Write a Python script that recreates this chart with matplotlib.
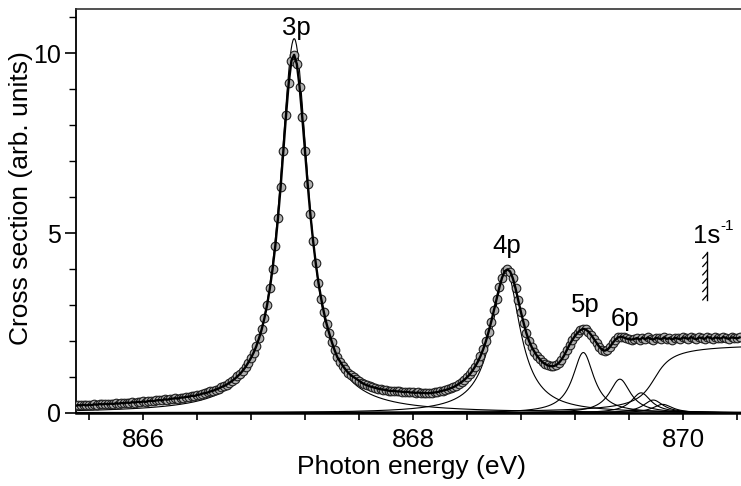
import numpy as np
import matplotlib
matplotlib.use("Agg")
import matplotlib.pyplot as plt

plt.rcParams['font.family'] = ['Liberation Sans', 'DejaVu Sans']

# ---------------- data ----------------
E_START = 865.50   # eV, first measured point
E_STEP = 0.02      # eV, energy step of the scan

cross_section = [
    0.20, 0.22, 0.21, 0.23, 0.21,   # 865.5
    0.23, 0.22, 0.24, 0.23, 0.25,
    0.24, 0.26, 0.24, 0.26, 0.25,
    0.27, 0.26, 0.28, 0.27, 0.29,
    0.28, 0.30, 0.29, 0.31, 0.30,
    0.32, 0.31, 0.33, 0.34, 0.33,   # 866.0
    0.35, 0.36, 0.35, 0.38, 0.37,
    0.39, 0.40, 0.41, 0.40, 0.43,
    0.43, 0.45, 0.45, 0.48, 0.47,
    0.50, 0.51, 0.54, 0.55, 0.57,
    0.60, 0.62, 0.65, 0.68, 0.72,   # 866.5
    0.75, 0.79, 0.84, 0.89, 0.95,
    1.02, 1.09, 1.18, 1.28, 1.40,
    1.53, 1.68, 1.86, 2.08, 2.33,
    2.64, 3.01, 3.46, 4.00, 4.63,
    5.41, 6.29, 7.28, 8.28, 9.18,   # 867.0
    9.79, 9.95, 9.69, 9.07, 8.22,
    7.28, 6.36, 5.52, 4.79, 4.16,
    3.62, 3.18, 2.80, 2.48, 2.21,
    1.96, 1.74, 1.55, 1.43, 1.31,
    1.21, 1.12, 1.05, 1.00, 0.95,   # 867.5
    0.90, 0.84, 0.80, 0.77, 0.74,
    0.72, 0.70, 0.68, 0.66, 0.65,
    0.64, 0.62, 0.61, 0.62, 0.60,
    0.60, 0.59, 0.58, 0.59, 0.57,
    0.57, 0.56, 0.57, 0.55, 0.56,   # 868.0
    0.55, 0.55, 0.56, 0.57, 0.58,
    0.60, 0.62, 0.64, 0.66, 0.69,
    0.72, 0.76, 0.81, 0.86, 0.92,
    0.99, 1.07, 1.17, 1.29, 1.42,
    1.58, 1.77, 1.99, 2.25, 2.54,   # 868.5
    2.86, 3.18, 3.49, 3.76, 3.94,
    3.99, 3.93, 3.74, 3.46, 3.13,
    2.80, 2.50, 2.22, 2.00, 1.83,
    1.70, 1.58, 1.49, 1.41, 1.36,
    1.32, 1.30, 1.30, 1.33, 1.39,   # 869.0
    1.48, 1.60, 1.75, 1.90, 2.03,
    2.14, 2.23, 2.30, 2.34, 2.32,
    2.26, 2.17, 2.06, 1.95, 1.84,
    1.76, 1.73, 1.76, 1.84, 1.95,
    2.04, 2.10, 2.12, 2.10, 2.07,   # 869.5
    2.05, 2.04, 2.06,
    2.08, 2.04, 2.09, 2.05, 2.10,   # 869.66
    2.06, 2.04, 2.09, 2.07, 2.05,
    2.10, 2.06, 2.08, 2.04, 2.09,
    2.07, 2.05, 2.10, 2.08, 2.06,
    2.11, 2.07, 2.05, 2.10, 2.08,
    2.06, 2.11, 2.09, 2.06, 2.10,
    2.08, 2.07, 2.11, 2.08, 2.06,
    2.10, 2.09, 2.07, 2.10,
]

# fitted Rydberg components (Lorentzian profiles)
peak_labels = ['3p', '4p', '5p', '6p', '7p', '8p', '9p']
peak_centers = [867.12, 868.69, 869.262, 869.533, 869.69, 869.78, 869.85]
peak_heights = [10.4, 3.97, 1.68, 0.94, 0.56, 0.36, 0.24]
peak_hwhm = [0.13, 0.125, 0.095, 0.095, 0.09, 0.09, 0.09]

# ionisation continuum step (arctan edge)
edge_center = 869.79
edge_height = 1.93
edge_width = 0.10

# 1s^-1 ionisation threshold marker
ionization_energy = 870.18
threshold_range = [3.14, 4.47]

# labels: text, energy, height
label_texts = ['3p', '4p', '5p', '6p']
label_energies = [867.14, 868.695, 869.274, 869.568]
label_heights = [10.5, 4.44, 2.80, 2.42]

# ---------------- figure ----------------
W, H = 741, 486
fig = plt.figure(figsize=(W / 100, H / 100), dpi=100)
ax = fig.add_axes([76 / W, 1 - 413 / H, 665 / W, 403.5 / H])

xmin, xmax = 865.504, 870.43
ymin, ymax = 0.0, 11.21
ax.set_xlim(xmin, xmax)
ax.set_ylim(ymin, ymax)

egrid = np.linspace(xmin, xmax, 1500)
for c, h, g in zip(peak_centers, peak_heights, peak_hwhm):
    prof = h * g ** 2 / ((egrid - c) ** 2 + g ** 2)
    ax.plot(egrid, prof, color='black', lw=0.8, zorder=2)
step = edge_height * (0.5 + np.arctan((egrid - edge_center) / edge_width) / np.pi)
ax.plot(egrid, step, color='black', lw=0.8, zorder=2)

energy = E_START + E_STEP * np.arange(len(cross_section))
ax.plot(energy, cross_section, linestyle='none', marker='o', ms=6.2,
        mfc='#b0b0b0', mec='#1e1e1e', mew=0.8, zorder=3)
ax.plot(energy, cross_section, color='black', lw=1.7, zorder=4)

for t, e, y in zip(label_texts, label_energies, label_heights):
    ax.text(e, y, t, ha='center', va='baseline', fontsize=18.5, zorder=6)

# threshold marker with hatching
ax.plot([ionization_energy, ionization_energy], threshold_range,
        color='black', lw=1.0, zorder=5)
dx = 4.5 * (xmax - xmin) / 665
dy = 5.0 * (ymax - ymin) / 403.5
for yh in np.linspace(threshold_range[1] - 0.03, threshold_range[0] + 0.14, 6):
    ax.plot([ionization_energy, ionization_energy - dx], [yh, yh - dy],
            color='black', lw=0.9, zorder=5)
ax.text(ionization_energy - 0.106, 4.71, '1s', ha='left', va='baseline',
        fontsize=18.5, zorder=6)
ax.text(ionization_energy + 0.094, 5.08, '-1', ha='left', va='baseline',
        fontsize=11, zorder=6)

# axes styling
xt = np.round(np.arange(865.6, 870.41, 0.4), 1)
ax.set_xticks(xt)
ax.set_xticklabels([f'{v:.0f}' if abs(v - round(v)) < 1e-6 and round(v) % 2 == 0 else '' for v in xt])
ax.tick_params(axis='x', direction='out', length=5, width=1.2, pad=6, labelsize=18.5)
ax.set_yticks([0, 5, 10])
ax.set_yticks(np.arange(0, 12, 1), minor=True)
ax.tick_params(axis='y', which='major', direction='out', length=8, width=1.2, pad=3, labelsize=18)
ax.tick_params(axis='y', which='minor', direction='out', length=5, width=1.0)

ax.spines['right'].set_visible(False)
ax.spines['top'].set_linewidth(1.2)
ax.spines['top'].set_color('#333333')
ax.spines['left'].set_linewidth(1.3)
ax.spines['bottom'].set_linewidth(1.8)

ax.set_xlabel('Photon energy (eV)', fontsize=19, va='center')
ax.xaxis.set_label_coords(0.5038, -0.135)
ax.set_ylabel('Cross section (arb. units)', fontsize=19, va='center')
ax.yaxis.set_label_coords(-0.083, 0.533)

fig.savefig('out.png', dpi=100)
